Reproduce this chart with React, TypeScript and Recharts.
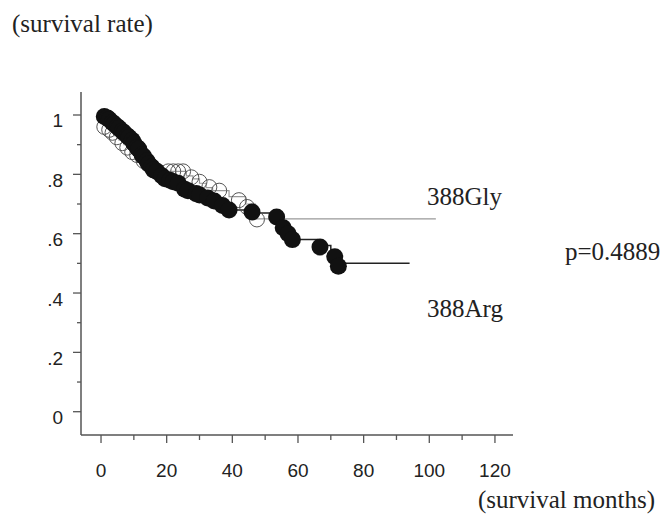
import { ComposedChart, Line, Scatter, XAxis, YAxis } from "recharts";

// Kaplan-Meier steps: [month, survival]
const argSteps = [
  [0, 1], [1.5, 0.99], [3, 0.98], [4.5, 0.97], [6, 0.955], [7.5, 0.94], [9, 0.925],
  [10.5, 0.905], [11.5, 0.885], [12.5, 0.865], [13.5, 0.85], [15, 0.83], [16.5, 0.815],
  [18, 0.795], [20, 0.78], [23, 0.77], [25, 0.75], [28, 0.735], [31, 0.725], [34, 0.71],
  [36, 0.695], [38, 0.68], [45, 0.67], [53, 0.655], [55, 0.62], [56.5, 0.6], [58, 0.58],
  [66, 0.56], [70, 0.525], [72, 0.5], [94, 0.5],
];
const glySteps = [
  [0, 1], [0.5, 0.975], [1.5, 0.96], [3, 0.945], [4, 0.93], [5.5, 0.915], [7, 0.9],
  [8.5, 0.885], [10, 0.87], [12, 0.855], [14, 0.835], [16, 0.82], [19, 0.81], [26, 0.795],
  [28, 0.785], [30, 0.77], [32, 0.755], [34, 0.745], [39, 0.725], [44, 0.7], [47, 0.65],
  [102, 0.65],
];

// censored cases
const argCensored = [
  [1, 0.995], [2, 0.99], [2.5, 0.985], [3.5, 0.975], [4, 0.97], [5, 0.96], [5.5, 0.955],
  [6.5, 0.945], [7, 0.94], [8, 0.93], [8.5, 0.925], [9.5, 0.915], [10, 0.905], [11, 0.89],
  [11.5, 0.885], [12.5, 0.865], [13, 0.86], [14, 0.845], [14.5, 0.835], [15.5, 0.825],
  [16, 0.815], [17, 0.81], [18.5, 0.795], [19.5, 0.785], [21, 0.78], [22, 0.775],
  [23.5, 0.77], [25.5, 0.75], [26.5, 0.745], [29, 0.735], [30, 0.73], [32.5, 0.72],
  [34.5, 0.71], [37, 0.695], [39, 0.68], [46, 0.673], [53.5, 0.656], [55.5, 0.62],
  [57, 0.6], [58.3, 0.58], [66.7, 0.555], [71.2, 0.522], [72.3, 0.49],
];
const glyCensored = [
  [1, 0.96], [2.5, 0.95], [3.5, 0.94], [4.8, 0.925], [6.5, 0.905], [8, 0.89], [9.5, 0.875],
  [11, 0.865], [13, 0.845], [15, 0.83], [20.5, 0.81], [22, 0.81], [23.5, 0.81], [25, 0.81],
  [27.5, 0.79], [30, 0.775], [33, 0.757], [36, 0.745], [42, 0.713], [44.5, 0.69],
  [47.5, 0.648],
];

const xTicks = [0, 10, 20, 30, 40, 50, 60, 70, 80, 90, 100, 110, 120];
const yTicks = [0, 0.1, 0.2, 0.3, 0.4, 0.5, 0.6, 0.7, 0.8, 0.9, 1];
const yTickLabels: Record<string, string> = {
  "0": "0", "0.2": ".2", "0.4": ".4", "0.6": ".6", "0.8": ".8", "1": "1",
};

const toPoints = (rows: number[][]) => rows.map(([m, s]) => ({ m, s }));

const axisColor = "#555";
const tickFont = "'Liberation Sans', Arial, sans-serif";
const serif = "'Liberation Serif', 'Times New Roman', serif";

const YTick = ({ x, y, payload }: any) => {
  const key = String(Math.round(payload.value * 10) / 10);
  const label = yTickLabels[key];
  const len = label !== undefined ? 8 : 4;
  return (
    <g>
      <line x1={x - len} y1={y} x2={x} y2={y} stroke={axisColor} strokeWidth={1.3} />
      {label !== undefined && (
        <text x={x - 18} y={y + 12.5} textAnchor="end" fontSize={19} fontFamily={tickFont} fill="#222">
          {label}
        </text>
      )}
    </g>
  );
};

const XTick = ({ x, y, payload }: any) => {
  const major = payload.value % 20 === 0;
  return (
    <g>
      <line x1={x} y1={y} x2={x} y2={y + (major ? 8 : 5)} stroke={axisColor} strokeWidth={1.3} />
      {major && (
        <text x={x} y={y + 42} textAnchor="middle" fontSize={19} fontFamily={tickFont} fill="#222">
          {payload.value}
        </text>
      )}
    </g>
  );
};

const FilledDot = (props: any) => <circle cx={props.cx} cy={props.cy} r={8.5} fill="#111" />;
const OpenDot = (props: any) => (
  <circle cx={props.cx} cy={props.cy} r={7.5} fill="none" stroke="#555" strokeWidth={1} />
);

export default function App() {
  return (
    <div style={{ position: "absolute", left: 0, top: 0, width: 668, height: 517, background: "#fff" }}>
      <ComposedChart width={668} height={517} margin={{ top: 92, right: 155, bottom: 32, left: 41 }}>
        <XAxis
          type="number"
          dataKey="m"
          domain={[-6.1, 125.5]}
          ticks={xTicks}
          tick={<XTick />}
          tickLine={false}
          tickSize={0}
          tickMargin={0}
          height={50}
          allowDataOverflow
          axisLine={{ stroke: axisColor, strokeWidth: 1.5 }}
        />
        <YAxis
          type="number"
          dataKey="s"
          domain={[-0.0785, 1.0775]}
          ticks={yTicks}
          tick={<YTick />}
          tickLine={false}
          tickSize={0}
          tickMargin={0}
          width={40}
          allowDataOverflow
          axisLine={{ stroke: axisColor, strokeWidth: 1.5 }}
        />
        <Line
          data={toPoints(glySteps)}
          dataKey="s"
          type="stepAfter"
          stroke="#999"
          strokeWidth={1.2}
          dot={false}
          isAnimationActive={false}
        />
        <Scatter data={toPoints(glyCensored)} dataKey="s" shape={<OpenDot />} isAnimationActive={false} />
        <Line
          data={toPoints(argSteps)}
          dataKey="s"
          type="stepAfter"
          stroke="#222"
          strokeWidth={1.5}
          dot={false}
          isAnimationActive={false}
        />
        <Scatter data={toPoints(argCensored)} dataKey="s" shape={<FilledDot />} isAnimationActive={false} />
      </ComposedChart>
      <svg
        width={668}
        height={517}
        style={{ position: "absolute", left: 0, top: 0, pointerEvents: "none" }}
      >
        <g fontFamily={serif} fontSize={25} fill="#222">
          <text x={12} y={32}>(survival rate)</text>
          <text x={427} y={205}>388Gly</text>
          <text x={427} y={317}>388Arg</text>
          <text x={565} y={260}>p=0.4889</text>
          <text x={655} y={508} textAnchor="end">(survival months)</text>
        </g>
      </svg>
    </div>
  );
}
